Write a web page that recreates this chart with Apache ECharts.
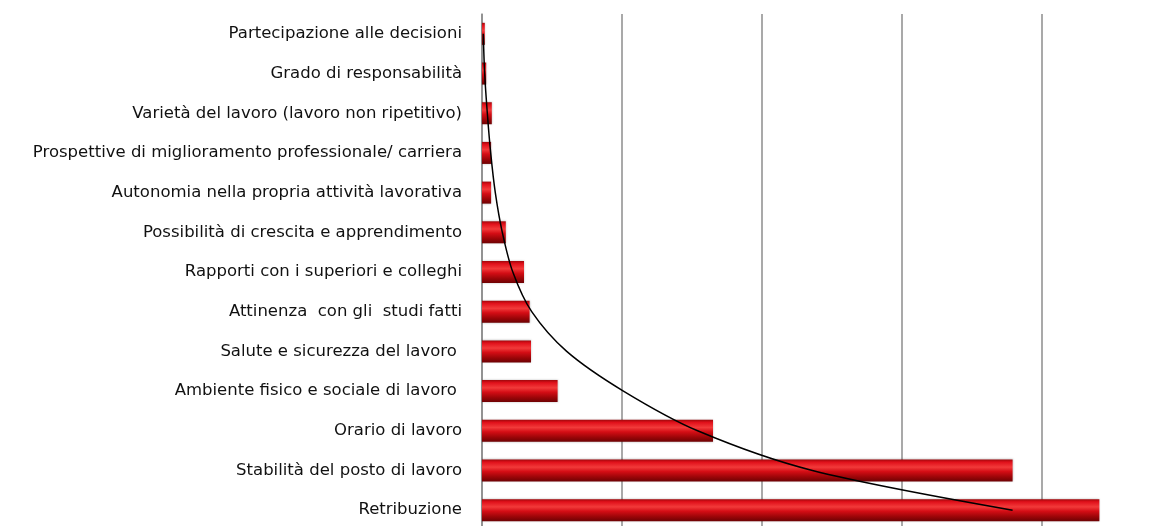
<!DOCTYPE html>
<html>
<head>
<meta charset="utf-8">
<script src="https://cdn.jsdelivr.net/npm/echarts@6/dist/echarts.min.js"></script>
<style>
  html, body { margin: 0; padding: 0; background: #fff; }
  #chart { width: 1176px; height: 526px; }
</style>
</head>
<body>
<div id="chart"></div>
<script>
// categories, top to bottom
var categories = [
  "Partecipazione alle decisioni",
  "Grado di responsabilità",
  "Varietà del lavoro (lavoro non ripetitivo)",
  "Prospettive di miglioramento professionale/ carriera",
  "Autonomia nella propria attività lavorativa",
  "Possibilità di crescita e apprendimento",
  "Rapporti con i superiori e colleghi",
  "Attinenza  con gli  studi fatti",
  "Salute e sicurezza del lavoro ",
  "Ambiente fisico e sociale di lavoro ",
  "Orario di lavoro",
  "Stabilità del posto di lavoro",
  "Retribuzione"
];
var values = [0.2, 0.3, 0.7, 0.65, 0.65, 1.7, 3.0, 3.4, 3.5, 5.4, 16.5, 37.9, 44.1];
// trend curve
var trend = [0.09, 0.19, 0.38, 0.62, 0.95, 1.45, 2.2, 3.55, 6.05, 10.1, 15.4, 23.6, 37.9];

var chart = echarts.init(document.getElementById("chart"));

var barColor = new echarts.graphic.LinearGradient(0, 0, 0, 1, [
  { offset: 0, color: "#a0080c" },
  { offset: 0.12, color: "#e0101a" },
  { offset: 0.35, color: "#f23a3a" },
  { offset: 0.55, color: "#d40d15" },
  { offset: 0.8, color: "#9a0508" },
  { offset: 1, color: "#6e0204" }
]);

chart.setOption({
  animation: false,
  grid: {
    left: 482,
    top: 14,
    width: 700,
    height: 516,
    outerBoundsMode: "none"
  },
  xAxis: {
    type: "value",
    min: 0,
    max: 50,
    interval: 10,
    axisLine: { show: false },
    axisTick: { show: false },
    axisLabel: { show: false },
    splitLine: { lineStyle: { color: "#8c8c8c", width: 1.5 } }
  },
  yAxis: {
    type: "category",
    inverse: true,
    data: categories,
    axisLine: { lineStyle: { color: "#8c8c8c", width: 1.5 } },
    axisTick: { length: 6, lineStyle: { color: "#8c8c8c", width: 1.5 } },
    axisLabel: {
      color: "#111",
      fontFamily: "DejaVu Sans",
      fontSize: 16.5,
      margin: 20
    }
  },
  series: [
    {
      type: "bar",
      data: values,
      barWidth: 22,
      itemStyle: {
        color: barColor,
        shadowColor: "rgba(0,0,0,0.25)",
        shadowBlur: 2
      }
    },
    {
      type: "line",
      data: trend,
      smooth: 0.3,
      symbol: "none",
      lineStyle: { color: "#000", width: 1.5 },
      z: 5
    }
  ]
});
</script>
</body>
</html>
